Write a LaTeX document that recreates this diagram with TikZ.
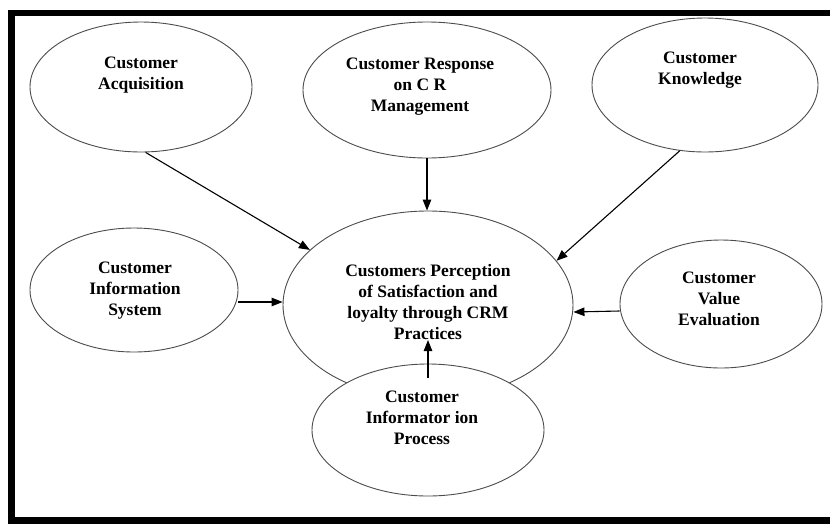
\documentclass[tikz,border=0pt]{standalone}
\usepackage{fontspec}
\setmainfont{Liberation Serif}
\usetikzlibrary{arrows.meta,shapes.geometric}
\begin{document}
\begin{tikzpicture}[x=1pt,y=-1pt,
  oval/.style={ellipse,draw=black!70,line width=0.9pt,fill=white,inner sep=0pt},
  lbl/.style={align=center,font=\fontsize{17.5}{21}\selectfont\bfseries,inner sep=0pt},
  arr/.style={line width=1.1pt,-{Triangle[length=11pt,width=8.5pt]}}]
\useasboundingbox (0,0) rectangle (830,523);
\fill[white] (0,0) rectangle (830,523);
% frame
\draw[line width=6.5pt] (11.5,13) rectangle (840,520.5);
% ellipses
\node[oval,minimum width=222pt,minimum height=130pt] (acq) at (141,87) {};
\node[oval,minimum width=248pt,minimum height=136pt] (resp) at (427,90) {};
\node[oval,minimum width=226pt,minimum height=134pt] (know) at (705,85) {};
\node[oval,minimum width=208pt,minimum height=124pt] (info) at (134,290) {};
\node[oval,minimum width=290pt,minimum height=188pt] (cen) at (428,305) {};
\node[oval,minimum width=202pt,minimum height=128pt] (val) at (721,304) {};
\node[oval,minimum width=232pt,minimum height=132pt] (proc) at (428,430) {};
% labels
\node[lbl] (tacq) at (141,75.5) {Customer\\Acquisition};
\node[lbl] (tresp) at (420,87) {Customer Response\\on C R\hspace{38pt}\\Management};
\node[lbl] (tknow) at (700,70.5) {Customer\\Knowledge};
\node[lbl] (tinfo) at (135,291) {Customer\\Information\\System};
\node[lbl] (tcen) at (428,302) {Customers Perception\\of Satisfaction and\\loyalty through CRM\\Practices};
\node[lbl] (tval) at (719,299) {Customer\\Value\\Evaluation};
\node[lbl] (tproc) at (422,418) {Customer\\Informator ion\\Process};
% arrows
\draw[arr] (acq.274) -- (cen.155);
\draw[arr] (resp.south) -- (resp.south |- cen.north);
\draw[arr] (know.249) -- (cen.19);
\draw[arr] ([yshift=-12pt]info.east) -- ([yshift=3pt]cen.west);
\draw[arr] ([yshift=-7pt]val.west) -- ([yshift=-7pt]cen.east);
\draw[arr] ([yshift=-14pt]proc.north) -- ([yshift=-35pt]cen.center);
\end{tikzpicture}
\end{document}
